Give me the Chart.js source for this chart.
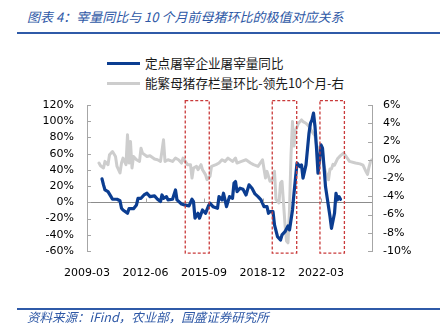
<!DOCTYPE html>
<html><head><meta charset="utf-8">
<script src="https://cdn.jsdelivr.net/npm/chart.js@4"></script>
<style>
html,body{margin:0;padding:0;background:#fff;}
#wrap{position:relative;width:440px;height:330px;overflow:hidden;font-family:"Noto Sans CJK SC","Noto Sans",sans-serif;}
#c{position:absolute;left:0;top:0;}
.title{position:absolute;left:27px;top:8px;font-size:13px;line-height:18px;font-style:italic;color:#2e58a6;white-space:nowrap;}
.rule{position:absolute;left:17px;width:423px;height:2px;background:#2f5aa8;}
.lg{position:absolute;left:145px;font-size:12.6px;line-height:16px;color:#1a1a1a;white-space:nowrap;}
.sw{position:absolute;left:107px;width:33px;height:3px;}
.src{position:absolute;left:27px;top:309px;font-size:12.5px;line-height:16px;font-style:italic;color:#2e58a6;white-space:nowrap;}
</style></head>
<body>
<div id="wrap">
  <div class="title">图表 4：宰量同比与 10 个月前母猪环比的极值对应关系</div>
  <div class="rule" style="top:32px"></div>
  <div class="sw" style="top:62px;background:#0b3d91"></div>
  <div class="lg" style="top:55px">定点屠宰企业屠宰量同比</div>
  <div class="sw" style="top:82px;background:#cdcdcd"></div>
  <div class="lg" style="top:75px">能繁母猪存栏量环比-领先10个月-右</div>
  <canvas id="c" width="440" height="330"></canvas>
  <div class="rule" style="top:308px"></div>
  <div class="src">资料来源：iFind，农业部，国盛证券研究所</div>
</div>
<script>
// x positions are months after 2009-03
const xTickMonths = [0, 39, 78, 117, 156];
const xTickLabels = ['2009-03', '2012-06', '2015-09', '2018-12', '2022-03'];

const blueMonths = [10,11,12,14,16,17,20,22,23,24,27,28,31,33,34,36,38,40,42,45,47,49,50,51,53,54,57,59,60,63,65,68,70,71,72,74,75,77,79,81,82,84,87,88,90,91,93,95,97,98,99,100,102,104,106,108,110,112,114,116,118,120,121,122,124,125,127,129,130,132,134,135,137,138,140,142,143,144,146,148,149,150,151,152,153,154,156,157,158,159,161,162,163,165,166,167,168,169];
const blueValues = [28.9,21.5,15.3,13.2,7,3.8,3.8,2,-7.3,-9.4,-13.5,-7.8,-7.8,-3.2,5,5,9.1,11.2,7,7.9,3.8,0.9,9.1,5,7,3,3.8,15.3,3,-2,-3.2,-4.4,3.8,0.9,-19.6,-13.5,-19.6,-9.4,-13.5,-4.4,-1.1,-5.3,-7.3,7,3,11.2,-5.3,7,5,23.6,25.6,13.2,17.4,16.1,9.1,21.5,17.4,10.4,7,3,-5.3,-5.3,-13.5,-11.5,-11.5,-27.9,-42.3,-46.4,-40.2,-36.2,-29.1,-34,-9.4,11.2,48.3,44,46.2,29.8,46.2,85.3,97.7,101.7,110,93.5,66.8,35.9,70.9,66.8,44,19.4,-5.3,-17.6,-32,-13.5,11.2,3,7,3.8];

const grayMonths = [8,9,11,12,14,15,17,19,20,22,23,24,26,27,28,29,30,31,33,35,36,37,40,42,45,47,49,51,52,54,57,59,61,63,64,67,69,70,71,73,74,76,77,79,80,82,83,86,88,90,92,94,97,99,100,103,106,109,111,114,117,119,120,122,124,125,126,128,129,130,132,133,134,135,136,137,138,139,141,143,144,146,148,150,152,153,154,155,156,157,158,159,161,162,163,164,165,167,169,171,173,175,179,182,184,186,187,188,189,190];
const grayValues = [-0.36,-0.65,-0.9,-0.18,-0.54,0.55,0.9,0.36,-0.73,-1.45,-0.36,0.18,-0.54,2.73,-0.36,2.0,-0.9,0.36,0,-0.18,1.27,0.73,0.36,0.44,0.08,0,-0.18,2.18,-0.18,0,-0.18,0.18,0,-0.36,0.18,-0.54,-0.54,-2.0,-0.9,-0.73,-1.09,-0.54,-1.09,-1.63,-2.18,-1.82,-0.73,-0.54,-0.36,0,-0.18,0.18,-0.18,0.18,-0.36,-0.18,0,-0.36,-0.54,-0.73,0,-2.0,-1.27,-2.36,-2.18,-1.27,-4.36,-4.73,-2.55,-2.36,-7.09,-8.9,-9.1,-5.45,0.5,4.2,1.5,3.2,4.0,4.36,4.18,4.0,3.64,3.09,2.6,1.6,1.3,1.2,0.6,0.1,-0.7,-1.3,-2.2,-1.0,-1.0,-0.5,-0.6,0.1,0.45,0.73,0.3,-0.18,-0.36,-0.45,-0.6,-1.3,-1.6,-0.8,-0.2,0];

// highlighted extreme periods (months after 2009-03)
const highlightStart = [65.5, 123.5, 155.3];
const highlightEnd = [81.5, 139.8, 171.6];

const tickFont = {family: 'DejaVu Sans', size: 11};

const axisTicks = {
  id: 'axisTicks',
  afterDraw(chart) {
    const {ctx, scales: {x, y, y2}} = chart;
    ctx.save();
    ctx.strokeStyle = '#a6a6a6'; ctx.lineWidth = 1; ctx.beginPath();
    y.ticks.forEach((t, i) => { const p = Math.round(y.getPixelForTick(i)) + 0.5; ctx.moveTo(y.right, p); ctx.lineTo(y.right + 4, p); });
    y2.ticks.forEach((t, i) => { const p = Math.round(y2.getPixelForTick(i)) + 0.5; ctx.moveTo(y2.left - 4, p); ctx.lineTo(y2.left, p); });
    const z = Math.round(y.getPixelForValue(0)) + 0.5;
    x.ticks.forEach((t, i) => { if (i === 0) return; const p = Math.round(x.getPixelForTick(i)) + 0.5; ctx.moveTo(p, z - 4); ctx.lineTo(p, z); });
    ctx.stroke();
    ctx.restore();
  }
};

const highlight = {
  id: 'highlight',
  afterDatasetsDraw(chart) {
    const {ctx, scales: {x, y}} = chart;
    ctx.save();
    ctx.strokeStyle = '#c93a3a'; ctx.lineWidth = 1.3; ctx.setLineDash([3, 2]);
    highlightStart.forEach((s, i) => {
      const l = x.getPixelForValue(s), r = x.getPixelForValue(highlightEnd[i]);
      const t = y.getPixelForValue(125.5), b = y.getPixelForValue(-62.5);
      ctx.strokeRect(l, t, r - l, b - t);
    });
    ctx.restore();
  }
};

new Chart(document.getElementById('c'), {
  type: 'line',
  data: {
    datasets: [
      {
        label: '定点屠宰企业屠宰量同比',
        data: blueMonths.map((m, i) => ({x: m, y: blueValues[i]})),
        borderColor: '#0b3d91', borderWidth: 3.2, pointRadius: 0, tension: 0, yAxisID: 'y',
        borderJoinStyle: 'round', borderCapStyle: 'round'
      },
      {
        label: '能繁母猪存栏量环比-领先10个月-右',
        data: grayMonths.map((m, i) => ({x: m, y: grayValues[i]})),
        borderColor: '#cdcdcd', borderWidth: 3, pointRadius: 0, tension: 0, yAxisID: 'y2',
        borderJoinStyle: 'round', borderCapStyle: 'round'
      }
    ]
  },
  options: {
    responsive: false, animation: false, devicePixelRatio: 1,
    layout: {padding: {top: 105, left: 0, right: 0, bottom: 0}},
    plugins: {legend: {display: false}, tooltip: {enabled: false}},
    scales: {
      x: {
        type: 'linear', min: 0, max: 190,
        afterBuildTicks(s) { s.ticks = xTickMonths.map(v => ({value: v})); },
        afterFit(s) { s.height = 79; },
        ticks: {autoSkip: false, maxRotation: 0, padding: 8, color: '#000', font: tickFont,
          callback(v) { const k = xTickMonths.indexOf(v); return k >= 0 ? xTickLabels[k] : ''; }},
        grid: {display: false}, border: {display: false}
      },
      y: {
        position: 'left', min: -60, max: 120,
        afterFit(s) { s.width = 87; },
        ticks: {stepSize: 20, padding: 13, color: '#000', font: tickFont, callback: v => v + '%'},
        grid: {drawTicks: false, color: c => c.tick && c.tick.value === 0 ? '#8c8c8c' : 'rgba(0,0,0,0)'},
        border: {display: true, color: '#a6a6a6'}
      },
      y2: {
        position: 'right', min: -10, max: 6,
        afterFit(s) { s.width = 68; },
        ticks: {stepSize: 2, padding: 11, color: '#000', font: tickFont, callback: v => v + '%'},
        grid: {display: false, drawTicks: false},
        border: {display: true, color: '#a6a6a6'}
      }
    }
  },
  plugins: [highlight, axisTicks]
});
</script>
</body></html>
